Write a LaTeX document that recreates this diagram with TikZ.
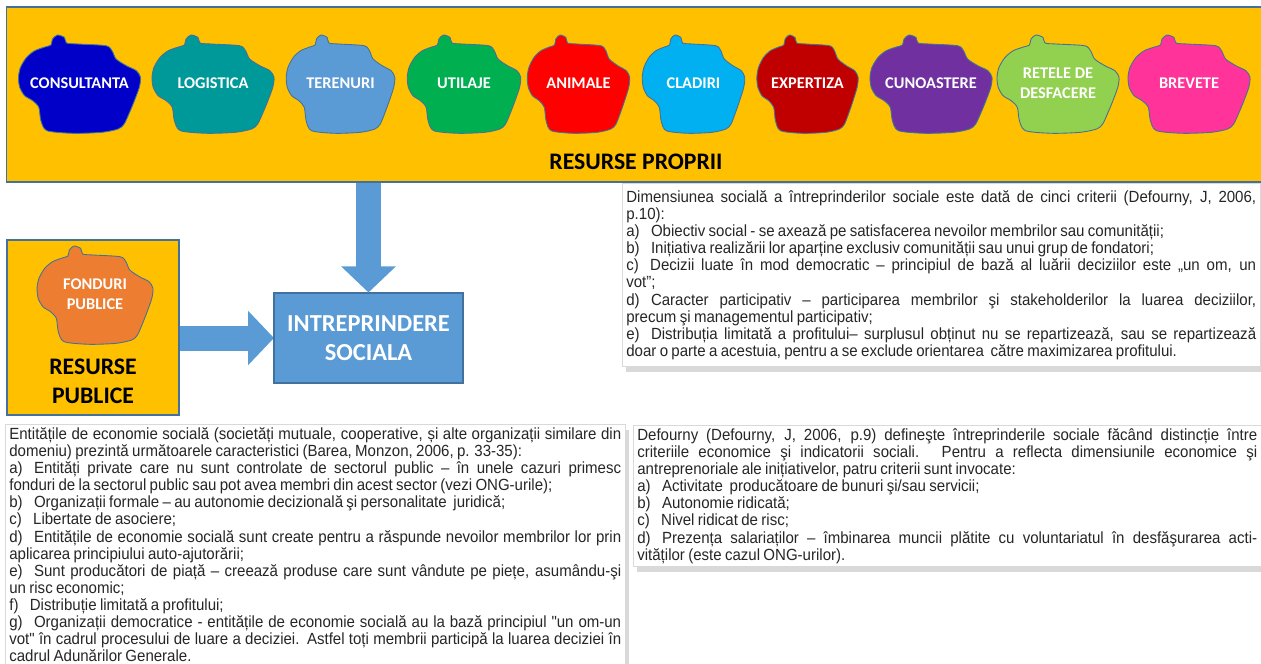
\documentclass[tikz,border=0pt]{standalone}
\usepackage{fontspec}
\setmainfont{Liberation Sans}
\newfontfamily\narrowfont{Liberation Sans}[FakeStretch=0.93, WordSpace=0.8]
\newfontfamily\calibrifont{Carlito}
\usepackage{tikz}
\usetikzlibrary{arrows.meta, positioning, shadows}
\usepackage{xcolor}
\definecolor{resorange}{RGB}{255,192,0}
\definecolor{resblue}{RGB}{91,155,213}
\definecolor{resedge}{RGB}{65,113,156}
\definecolor{cconsult}{RGB}{0,0,200}
\definecolor{clogist}{RGB}{0,153,153}
\definecolor{cteren}{RGB}{91,155,213}
\definecolor{cutil}{RGB}{0,176,80}
\definecolor{canim}{RGB}{255,0,0}
\definecolor{ccladiri}{RGB}{0,176,240}
\definecolor{cexpert}{RGB}{192,0,0}
\definecolor{ccunoa}{RGB}{112,48,160}
\definecolor{cretele}{RGB}{146,208,80}
\definecolor{cbrevet}{RGB}{255,51,153}
\definecolor{cfond}{RGB}{237,125,49}
\tolerance=9999
\hbadness=10000
\hyphenpenalty=10000
\parindent=0pt

\begin{document}
\begin{tikzpicture}[x=0.02cm, y=-0.02cm,
    resbox/.style={draw=resedge, line width=0.6pt, fill=resorange, inner sep=0pt},
    blobtext/.style={text=white, font=\calibrifont\bfseries\fontsize{9.3}{11.4}\selectfont, align=center},
    bigtitle/.style={font=\calibrifont\bfseries\fontsize{13.5}{16.5}\selectfont, align=center},
    txtbox/.style={draw=gray!30, fill=white, anchor=north west, inner xsep=0.08cm, inner ysep=0.06cm,
        align=justify, text=black!85, font=\narrowfont\fontsize{9.2}{9.75}\selectfont,
        drop shadow={shadow xshift=2pt, shadow yshift=-3pt, opacity=0.3}},
    bigarrow/.style={line width=0.5cm, draw=resblue, -{Triangle[width=1.06cm, length=0.52cm]}},
    pics/blob/.style 2 args={code={
        \filldraw[draw=resedge, line width=0.5pt, fill=#1] plot[smooth cycle, tension=0.45] coordinates {
            (-27,-45) (-22,-49) (-15,-46.5) (-13,-41) (-2,-40) (26.4,-38.3) (32.5,-33.3)
            (36.6,-25) (46.8,-18.3) (56.9,-13.3) (61,-6.7) (59.8,3.3) (54.9,16.7) (50.8,26.7)
            (44.7,40) (38.6,45) (22.4,48.3) (-6.1,49.3) (-32.5,46.7) (-38.6,36.7) (-40.7,23.3)
            (-46.8,16.7) (-54.9,11.7) (-59.8,3.3) (-61,-6.7) (-59,-16.7) (-52.9,-26.7)
            (-44.7,-33.3) (-34.6,-37) (-28.5,-39)};
        \node[blobtext] (-t) at (0,-1) {#2};
    }}
]
    \useasboundingbox (0,0) rectangle (1261,663);

    % resurse proprii
    \node[resbox, minimum width=25.16cm, minimum height=3.5cm] (resprop) at (635.5,94.5) {};
    \node[bigtitle] (respropt) at (636,162) {RESURSE PROPRII};
    \pic (cons) at (79.5,84) {blob={cconsult}{CONSULTANTA}};
    \pic (logist) at (213,84) {blob={clogist}{LOGISTICA}};
    \pic[xscale=0.89] (teren) at (340.5,84) {blob={cteren}{TERENURI}};
    \pic[xscale=0.93] (util) at (464,84) {blob={cutil}{UTILAJE}};
    \pic[xscale=0.84] (anim) at (578.5,84) {blob={canim}{ANIMALE}};
    \pic[xscale=0.84] (cladiri) at (693.5,84) {blob={ccladiri}{CLADIRI}};
    \pic[xscale=0.83] (expert) at (807.5,84) {blob={cexpert}{EXPERTIZA}};
    \pic (cunoa) at (931,84) {blob={ccunoa}{CUNOASTERE}};
    \pic (retele) at (1058,84) {blob={cretele}{RETELE DE\\DESFACERE}};
    \pic (brevet) at (1189,84) {blob={cbrevet}{BREVETE}};

    % resurse publice
    \node[resbox, minimum width=3.44cm, minimum height=3.5cm] (respub) at (93,327.5) {};
    \pic[xscale=0.95] (fond) at (95,295) {blob={cfond}{FONDURI\\PUBLICE}};
    \node[bigtitle] (respubt) at (93,381) {RESURSE\\PUBLICE};

    % intreprindere sociala
    \draw[bigarrow] (respub.east |- 0,338) -- (274,338);
    \node[draw=resedge, line width=0.6pt, fill=resblue, minimum width=3.78cm, minimum height=1.8cm,
        text=white, align=center, font=\calibrifont\bfseries\fontsize{13.9}{16.5}\selectfont] (intr) at (368.5,338) {INTREPRINDERE\\SOCIALA};
    \draw[bigarrow] (intr.north |- resprop.south) -- (intr.north);

    % texte
    \node[txtbox, text width=12.6cm, inner ysep=0.14cm] (txtdim) at (622,183) {%
        Dimensiunea socială a întreprinderilor sociale este dată de cinci criterii (Defourny, J, 2006,\linebreak
        p.10):\par
        a)\hspace{0.7em}Obiectiv social - se axează pe satisfacerea nevoilor membrilor sau comunității;\par
        b)\hspace{0.7em}Inițiativa realizării lor aparține exclusiv comunității sau unui grup de fondatori;\par
        c)\hspace{0.7em}Decizii luate în mod democratic – principiul de bază al luării deciziilor este „un om, un\linebreak
        vot”;\par
        d)\hspace{0.7em}Caracter participativ – participarea membrilor şi stakeholderilor la luarea deciziilor,\linebreak
        precum şi managementul participativ;\par
        e)\hspace{0.7em}Distribuția limitată a profitului– surplusul obținut nu se repartizează, sau se repartizează\linebreak
        doar o parte a acestuia, pentru a se exclude orientarea\ \ către maximizarea profitului.};
    \node[txtbox, text width=12.24cm] (txtent) at (5,424) {%
        Entitățile de economie socială (societăți mutuale, cooperative, și alte organizații similare din\linebreak
        domeniu) prezintă următoarele caracteristici (Barea, Monzon, 2006, p. 33-35):\par
        a)\hspace{0.7em}Entități private care nu sunt controlate de sectorul public – în unele cazuri primesc\linebreak
        fonduri de la sectorul public sau pot avea membri din acest sector (vezi ONG-urile);\par
        b)\hspace{0.7em}Organizații formale – au autonomie decizională şi personalitate\ \ juridică;\par
        c)\hspace{0.7em}Libertate de asociere;\par
        d)\hspace{0.7em}Entitățile de economie socială sunt create pentru a răspunde nevoilor membrilor lor prin\linebreak
        aplicarea principiului auto-ajutorării;\par
        e)\hspace{0.7em}Sunt producători de piață – creează produse care sunt vândute pe piețe, asumându-şi\linebreak
        un risc economic;\par
        f)\hspace{0.7em}Distribuție limitată a profitului;\par
        g)\hspace{0.7em}Organizații democratice - entitățile de economie socială au la bază principiul "un om-un\linebreak
        vot" în cadrul procesului de luare a deciziei. Astfel toți membrii participă la luarea deciziei în\linebreak
        cadrul Adunărilor Generale.};
    \node[txtbox, text width=12.4cm] (txtdef) at (633,425) {%
        Defourny (Defourny, J, 2006, p.9) defineşte întreprinderile sociale făcând distincție între\linebreak
        criteriile economice şi indicatorii sociali. Pentru a reflecta dimensiunile economice şi\linebreak
        antreprenoriale ale inițiativelor, patru criterii sunt invocate:\par
        a)\hspace{0.7em}Activitate\ \ producătoare de bunuri şi/sau servicii;\par
        b)\hspace{0.7em}Autonomie ridicată;\par
        c)\hspace{0.7em}Nivel ridicat de risc;\par
        d)\hspace{0.7em}Prezența salariaților – îmbinarea muncii plătite cu voluntariatul în desfăşurarea acti-\linebreak
        vităților (este cazul ONG-urilor).};
\end{tikzpicture}
\end{document}
